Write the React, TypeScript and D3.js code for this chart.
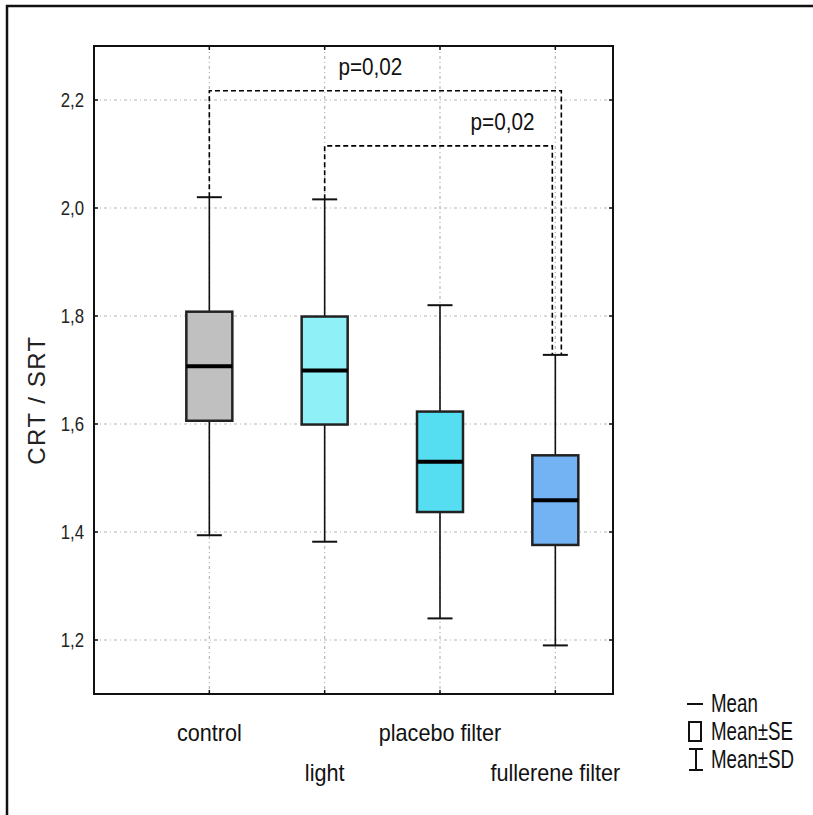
import React from "react";
import * as d3 from "d3";

// values
const groups = ["control", "light", "placebo filter", "fullerene filter"];
const means = [1.707, 1.699, 1.530, 1.459];
const se = [0.101, 0.100, 0.093, 0.083];
const sd = [0.313, 0.317, 0.290, 0.269];
const fills = ["#c0c0c0", "#8ff1f7", "#55ddf2", "#74b3f3"];
const yTicks = [1.2, 1.4, 1.6, 1.8, 2.0, 2.2];

const brackets = [
  { from: 0, to: 3, level: 2.217, label: "p=0,02", dx: 6 },
  { from: 1, to: 3, level: 2.115, label: "p=0,02", dx: -3 },
];

const font = "'Liberation Sans', Arial, sans-serif";

export default function App() {
  const W = 813;
  const H = 815;
  const left = 94, right = 613, top = 46, bottom = 694;

  const x = d3.scaleLinear().domain([0, 4.5]).range([left, right]);
  const y = d3.scaleLinear().domain([1.1, 2.3]).range([bottom, top]);
  const fmt = (v: number) => d3.format(".1f")(v).replace(".", ",");

  const boxW = 46;
  const capW = 25;
  const grid = { stroke: "#b4b4b4", strokeWidth: 1.2, strokeDasharray: "3,3,1,3" };

  return (
    <div style={{ position: "absolute", left: 0, top: 0 }}>
      <svg width={W} height={H} style={{ display: "block", background: "#fff" }}>
        {/* outer frame */}
        <rect x={7} y={6} width={W} height={H} fill="none" stroke="#111" strokeWidth={2.5} />

        {/* grid */}
        {yTicks.map((t) => (
          <line key={"h" + t} x1={left} x2={right} y1={y(t)} y2={y(t)} {...grid} />
        ))}
        {groups.map((g, i) => (
          <line key={"v" + g} x1={x(i + 1)} x2={x(i + 1)} y1={top} y2={bottom} {...grid} />
        ))}

        {/* brackets */}
        {brackets.map((b, k) => {
          const x1 = x(b.from + 1);
          const x2 = x(b.to + 1) + b.dx;
          const yl = y(b.level);
          const y1 = y(means[b.from] + sd[b.from]);
          const y2 = y(means[b.to] + sd[b.to]);
          return (
            <g key={"b" + k}>
              <path
                d={`M${x1},${y1}V${yl}H${x2}V${y2}`}
                fill="none"
                stroke="#000"
                strokeWidth={1.6}
                strokeDasharray="5,3"
              />
              <text
                transform={`translate(${(x1 + x2) / 2 + (k === 0 ? -15 : 64)},${yl - 16}) scale(0.9,1)`}
                textAnchor="middle"
                fontFamily={font}
                fontSize={23}
                fill="#111"
              >
                {b.label}
              </text>
            </g>
          );
        })}

        {/* boxes */}
        {groups.map((g, i) => {
          const cx = x(i + 1);
          const m = means[i];
          return (
            <g key={"box" + g}>
              <line x1={cx} x2={cx} y1={y(m + sd[i])} y2={y(m - sd[i])} stroke="#111" strokeWidth={1.6} />
              <line x1={cx - capW / 2} x2={cx + capW / 2} y1={y(m + sd[i])} y2={y(m + sd[i])} stroke="#111" strokeWidth={2} />
              <line x1={cx - capW / 2} x2={cx + capW / 2} y1={y(m - sd[i])} y2={y(m - sd[i])} stroke="#111" strokeWidth={2} />
              <rect
                x={cx - boxW / 2}
                y={y(m + se[i])}
                width={boxW}
                height={y(m - se[i]) - y(m + se[i])}
                fill={fills[i]}
                stroke="#222"
                strokeWidth={2.5}
              />
              <line x1={cx - boxW / 2} x2={cx + boxW / 2} y1={y(m)} y2={y(m)} stroke="#000" strokeWidth={4} />
            </g>
          );
        })}

        {/* plot frame */}
        <rect x={left} y={top} width={right - left} height={bottom - top} fill="none" stroke="#111" strokeWidth={2} />

        {/* y ticks */}
        {yTicks.map((t) => (
          <g key={"yt" + t}>
            <line x1={left} x2={left + 4} y1={y(t)} y2={y(t)} stroke="#111" strokeWidth={1.5} />
            <line x1={right - 4} x2={right} y1={y(t)} y2={y(t)} stroke="#111" strokeWidth={1.5} />
            <text
              transform={`translate(84,${y(t) + 7}) scale(0.8,1)`}
              textAnchor="end"
              fontFamily={font}
              fontSize={21}
              fill="#222"
            >
              {fmt(t)}
            </text>
          </g>
        ))}

        {/* x ticks and labels */}
        {groups.map((g, i) => (
          <g key={"xt" + g}>
            <line x1={x(i + 1)} x2={x(i + 1)} y1={bottom} y2={bottom - 4} stroke="#111" strokeWidth={1.5} />
            <line x1={x(i + 1)} x2={x(i + 1)} y1={top} y2={top + 4} stroke="#111" strokeWidth={1.5} />
            <text
              transform={`translate(${x(i + 1)},${i % 2 === 0 ? 741 : 781}) scale(0.94,1)`}
              textAnchor="middle"
              fontFamily={font}
              fontSize={23}
              fill="#111"
            >
              {g}
            </text>
          </g>
        ))}

        {/* y axis title */}
        <text
          transform="translate(45,400) rotate(-90)"
          textAnchor="middle"
          fontFamily={font}
          fontSize={24}
          letterSpacing={1.5}
          fill="#222"
        >
          CRT / SRT
        </text>

        {/* legend */}
        <g fontFamily={font} fontSize={26} fill="#111">
          <line x1={687} x2={703} y1={704} y2={704} stroke="#111" strokeWidth={2} />
          <text transform="translate(711,712) scale(0.72,1)">Mean</text>
          <rect x={689} y={722} width={12} height={19} fill="none" stroke="#111" strokeWidth={2} />
          <text transform="translate(711,740) scale(0.72,1)">Mean±SE</text>
          <line x1={696} x2={696} y1={749} y2={770} stroke="#111" strokeWidth={2} />
          <line x1={689} x2={703} y1={749} y2={749} stroke="#111" strokeWidth={2} />
          <line x1={689} x2={703} y1={770} y2={770} stroke="#111" strokeWidth={2} />
          <text transform="translate(711,768) scale(0.72,1)">Mean±SD</text>
        </g>
      </svg>
    </div>
  );
}
